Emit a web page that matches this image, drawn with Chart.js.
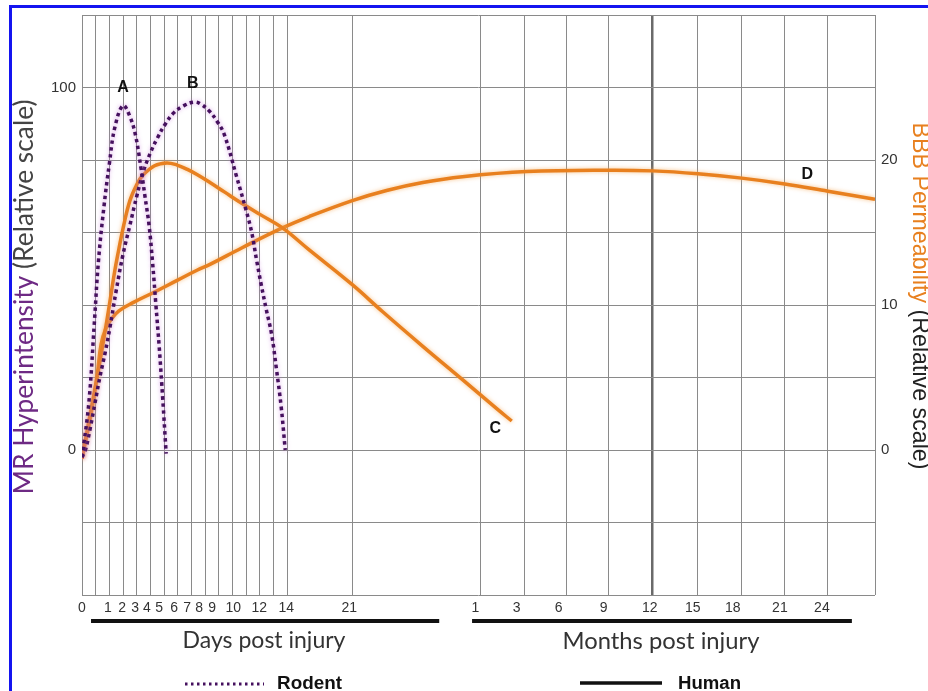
<!DOCTYPE html>
<html>
<head>
<meta charset="utf-8">
<script src="https://cdn.jsdelivr.net/npm/chart.js@4.4.0/dist/chart.umd.min.js"></script>
<style>
  html, body { margin: 0; padding: 0; background: #fff; overflow: hidden; }
  #wrap { position: relative; width: 928px; height: 691px; }
  #marco { position: absolute; left: 9px; top: 5px; width: 1000px; height: 800px;
           border-left: 3px solid #1414f0; border-top: 3px solid #1414f0; pointer-events: none; }
</style>
</head>
<body>
<div id="wrap">
  <canvas id="grafico" width="928" height="691"></canvas>
  <div id="marco"></div>
</div>
<script>
// eje x: posicion a lo largo del tiempo (dias 0-14, 21 dias, luego meses)
const gridAt = [0, 1, 2, 3, 4, 5, 6, 7, 8, 9, 10, 11, 12, 13, 14, 15, 19.75,
                29.1, 32.3, 35.4, 38.5, 41.7, 45.0, 48.2, 51.35, 54.5, 57.94];
const tickAt = [0, 1.9, 2.93, 3.88, 4.75, 5.63, 6.73, 7.68, 8.56, 9.51, 11.05, 12.95, 14.92, 19.53,
                28.75, 31.75, 34.82, 38.11, 41.48, 44.62, 47.55, 50.99, 54.06];
const tickLabels = ['0', '1', '2', '3', '4', '5', '6', '7', '8', '9', '10', '12', '14', '21',
                    '1', '3', '6', '9', '12', '15', '18', '21', '24'];
const mesDoce = 41.7;

// MR Hyperintensity (roedor), eje izquierdo
const rodentA = [[0, -2], [0.5, 13], [0.9, 35], [1.2, 52], [1.6, 67], [2.0, 79], [2.4, 89], [3.0, 95],
                 [3.5, 92], [3.9, 87], [4.3, 78], [4.6, 70], [4.9, 62], [5.15, 52], [5.4, 40],
                 [5.65, 28], [5.9, 14], [6.15, -1]];
const rodentB = [[0, -2], [0.25, 0], [0.6, 6], [0.95, 13], [1.3, 20], [1.7, 27], [2.05, 34], [2.5, 44],
                 [3.0, 54], [3.5, 62], [4.0, 70], [4.5, 77], [5.0, 82], [5.5, 86], [6.1, 90], [6.7, 93],
                 [7.45, 95], [8.2, 96], [8.65, 95.5], [9.3, 93.5], [9.9, 90.5], [10.4, 87], [11.25, 76],
                 [12.0, 66], [12.4, 60], [12.75, 52.5], [13.1, 45.5], [13.45, 39], [13.85, 32],
                 [14.2, 22.5], [14.55, 12], [14.85, 0]];

// BBB Permeability (humano), eje derecho
const humanC = [[0, -0.6], [0.6, 2.5], [1.1, 5.0], [1.6, 7.7], [2.0, 10.0], [2.35, 12.1], [2.6, 13.4],
                [3.05, 15.5], [3.5, 17.2], [4.0, 18.3], [4.4, 18.9], [5.3, 19.6], [6.2, 19.8],
                [6.95, 19.65], [7.7, 19.35], [8.4, 19.0], [9.35, 18.45], [10.4, 17.8], [11.7, 17.0],
                [13.0, 16.25], [14.6, 15.35], [16.6, 13.8], [19.75, 11.4], [21.95, 9.55], [24.9, 7.15],
                [27.8, 4.85], [30.3, 2.85], [31.4, 2.0]];
const humanD = [[0, -0.6], [0.65, 2.4], [1.1, 5.1], [1.4, 7.3], [1.75, 8.4], [2.2, 9.1], [2.7, 9.6],
                [3.8, 10.2], [5.3, 10.9], [6.95, 11.7], [8.4, 12.4], [9.35, 12.8], [11.7, 13.95],
                [14.6, 15.3], [16.6, 16.1], [19.75, 17.2], [22.25, 17.9], [24.9, 18.45], [27.8, 18.85],
                [32.5, 19.2], [38.55, 19.3], [41.7, 19.25], [45.0, 19.05], [48.2, 18.75], [51.35, 18.35],
                [54.5, 17.85], [57.94, 17.3]];

// letras de las curvas (posicion en unidades del eje izquierdo)
const curveLabels = [['A', 3.0, 100], ['B', 8.1, 101], ['C', 30.2, 6], ['D', 53, 76]];

const gris = '#8a8a8a';
const morado = '#45105e';
const naranja = '#e8801f';

function toXY(arr) {
    return arr.map(p => ({ x: p[0], y: p[1] }));
}

// texto con varios colores, ajustado a un ancho dado
function textoAjustado(ctx, partes, familia, peso, ancho, cx, cy, rot) {
    ctx.save();
    ctx.font = peso + ' 20px ' + familia;
    let w = 0;
    partes.forEach(p => { w += ctx.measureText(p[0]).width; });
    const size = 20 * ancho / w;
    ctx.font = peso + ' ' + size.toFixed(2) + 'px ' + familia;
    let total = 0;
    partes.forEach(p => { total += ctx.measureText(p[0]).width; });
    ctx.translate(cx, cy);
    ctx.rotate(rot);
    ctx.textBaseline = 'middle';
    ctx.textAlign = 'left';
    let x = -total / 2;
    partes.forEach(p => {
        ctx.fillStyle = p[1];
        ctx.fillText(p[0], x, 0);
        x += ctx.measureText(p[0]).width;
    });
    ctx.restore();
}

// halo suave alrededor de las lineas, como en la figura original
const halo = {
    id: 'halo',
    beforeDatasetDraw(chart, args) {
        const ctx = chart.ctx;
        ctx.save();
        ctx.shadowBlur = 4;
        ctx.shadowColor = args.index < 2 ? 'rgba(200,120,220,0.8)' : 'rgba(245,170,90,0.7)';
    },
    afterDatasetDraw(chart) {
        chart.ctx.restore();
    }
};

const extras = {
    id: 'extras',
    afterDraw(chart) {
        const ctx = chart.ctx;
        const xs = chart.scales.x;
        const yl = chart.scales.y;

        // letras A-D
        ctx.save();
        ctx.fillStyle = '#111';
        ctx.font = 'bold 16px "Liberation Sans", Arial, sans-serif';
        ctx.textAlign = 'center';
        ctx.textBaseline = 'middle';
        curveLabels.forEach(l => {
            ctx.fillText(l[0], xs.getPixelForValue(l[1]), yl.getPixelForValue(l[2]));
        });
        ctx.restore();

        // titulos de ejes y
        textoAjustado(ctx, [['MR Hyperintensity ', '#6e2a84'], ['(Relative scale)', '#444']],
            'Lato, sans-serif', 'normal', 395, 25, 297, -Math.PI / 2);
        textoAjustado(ctx, [['BBB Permeability ', naranja], ['(Relative scale)', '#222']],
            '"Liberation Sans", Arial, sans-serif', 'normal', 347, 919, 296, Math.PI / 2);

        // barras de dias / meses
        ctx.save();
        ctx.fillStyle = '#111';
        ctx.fillRect(xs.getPixelForValue(0.66), 619, xs.getPixelForValue(26.1) - xs.getPixelForValue(0.66), 4);
        ctx.fillRect(xs.getPixelForValue(28.5), 619, xs.getPixelForValue(56.25) - xs.getPixelForValue(28.5), 4);
        ctx.restore();
        textoAjustado(ctx, [['Days post injury', '#333']], 'Lato, sans-serif', 'normal', 163, 264, 641, 0);
        textoAjustado(ctx, [['Months post injury', '#333']], 'Lato, sans-serif', 'normal', 197, 661, 641, 0);

        // leyenda
        ctx.save();
        ctx.strokeStyle = morado;
        ctx.lineWidth = 3;
        ctx.setLineDash([2.5, 3.5]);
        ctx.beginPath();
        ctx.moveTo(185, 684);
        ctx.lineTo(264, 684);
        ctx.stroke();
        ctx.setLineDash([]);
        ctx.strokeStyle = '#111';
        ctx.lineWidth = 3.5;
        ctx.beginPath();
        ctx.moveTo(580, 683);
        ctx.lineTo(662, 683);
        ctx.stroke();
        ctx.restore();
        textoAjustado(ctx, [['Rodent', '#111']], '"Liberation Sans", Arial, sans-serif', 'bold', 65, 309.5, 684, 0);
        textoAjustado(ctx, [['Human', '#111']], '"Liberation Sans", Arial, sans-serif', 'bold', 63, 709.5, 684, 0);
    }
};

function serieRoedor(nombre, puntos) {
    return {
        label: nombre,
        data: toXY(puntos),
        yAxisID: 'y',
        borderColor: morado,
        borderWidth: 3.5,
        borderDash: [3.5, 3.5],
        pointRadius: 0,
        tension: 0.4,
        fill: false
    };
}

function serieHumano(nombre, puntos) {
    return {
        label: nombre,
        data: toXY(puntos),
        yAxisID: 'y2',
        borderColor: naranja,
        borderWidth: 3.5,
        pointRadius: 0,
        tension: 0.4,
        fill: false
    };
}

const fuenteTicks = { family: '"Liberation Sans", Arial, sans-serif', size: 14 };

const ctxG = document.getElementById('grafico').getContext('2d');
const grafico = new Chart(ctxG, {
    type: 'line',
    data: {
        datasets: [
            serieRoedor('Rodent A', rodentA),
            serieRoedor('Rodent B', rodentB),
            serieHumano('Human C', humanC),
            serieHumano('Human D', humanD)
        ]
    },
    options: {
        responsive: false,
        animation: false,
        events: [],
        layout: { padding: { top: 12, left: 0, right: 0, bottom: 0 } },
        plugins: { legend: { display: false }, tooltip: { enabled: false } },
        scales: {
            x: {
                type: 'linear',
                min: 0,
                max: 57.94,
                afterBuildTicks: s => { s.ticks = gridAt.map(v => ({ value: v })); },
                afterFit: s => { s.height = 0; },
                ticks: { display: false },
                grid: {
                    color: ctx => (ctx.tick && Math.abs(ctx.tick.value - mesDoce) < 0.01) ? '#6a6a6a' : gris,
                    lineWidth: ctx => (ctx.tick && Math.abs(ctx.tick.value - mesDoce) < 0.01) ? 2.5 : 1,
                    drawTicks: false
                },
                border: { display: false }
            },
            xLab: {
                type: 'linear',
                position: 'bottom',
                min: 0,
                max: 57.94,
                afterBuildTicks: s => { s.ticks = tickAt.map(v => ({ value: v })); },
                afterFit: s => { s.height = 96; },
                ticks: {
                    autoSkip: false,
                    maxRotation: 0,
                    minRotation: 0,
                    padding: 5,
                    color: '#333',
                    font: fuenteTicks,
                    callback: (v, i) => tickLabels[i]
                },
                grid: { display: false, drawTicks: false },
                border: { display: false }
            },
            y: {
                position: 'left',
                min: -40,
                max: 120,
                afterFit: s => { s.width = 82; },
                ticks: {
                    stepSize: 20,
                    padding: 6,
                    color: '#333',
                    font: { family: '"Liberation Sans", Arial, sans-serif', size: 15 },
                    callback: v => (v === 0 || v === 100) ? String(v) : ''
                },
                grid: { color: gris, lineWidth: 1, drawTicks: false },
                border: { display: false }
            },
            y2: {
                position: 'right',
                min: -10,
                max: 30,
                afterFit: s => { s.width = 53; },
                ticks: {
                    stepSize: 5,
                    padding: 6,
                    color: '#333',
                    font: { family: '"Liberation Sans", Arial, sans-serif', size: 15 },
                    callback: v => (v === 0 || v === 10 || v === 20) ? String(v) : ''
                },
                grid: { display: false, drawTicks: false },
                border: { display: false }
            }
        }
    },
    plugins: [halo, extras]
});
</script>
</body>
</html>
